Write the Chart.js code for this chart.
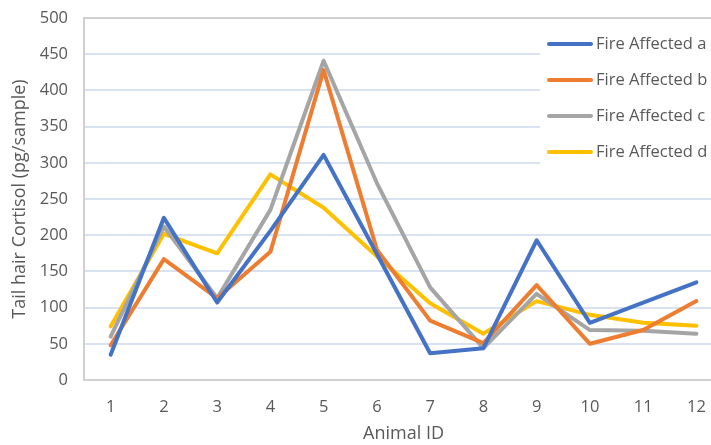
<!DOCTYPE html>
<html>
<head>
<meta charset="utf-8">
<script src="https://cdn.jsdelivr.net/npm/chart.js@4/dist/chart.umd.min.js"></script>
<style>
  html, body { margin: 0; padding: 0; background: #fff; overflow: hidden; }
  #wrap { position: relative; width: 740px; height: 445px; }
</style>
</head>
<body>
<div id="wrap"><canvas id="c"></canvas></div>
<script>
// Animal IDs along the x axis
const animalIds = ['1', '2', '3', '4', '5', '6', '7', '8', '9', '10', '11', '12'];

// Tail hair cortisol (pg/sample) per group
const fireAffectedA = [35, 224, 107, 206, 311, 174, 37, 44, 193, 79, 107, 135];
const fireAffectedB = [48, 167, 113, 177, 428, 180, 82, 51, 131, 50, 69, 109];
const fireAffectedC = [60, 212, 113, 235, 441, 272, 128, 44, 119, 69, 68, 64];
const fireAffectedD = [74, 202, 175, 284, 238, 171, 106, 64, 109, 90, 79, 75];

const seriesNames = ['Fire Affected a', 'Fire Affected b', 'Fire Affected c', 'Fire Affected d'];
const seriesColors = ['#4472C4', '#ED7D31', '#A5A5A5', '#FFC000'];
const seriesValues = [fireAffectedA, fireAffectedB, fireAffectedC, fireAffectedD];

const FONT = "'Open Sans', 'Noto Sans', sans-serif";
const TEXT = '#595959';

// Legend panel drawn inside the plot area, on top of the gridlines
const insideLegend = {
  id: 'insideLegend',
  beforeDatasetsDraw(chart) {
    const ctx = chart.ctx;
    ctx.save();
    ctx.fillStyle = '#ffffff';
    ctx.fillRect(540, 21, 200, 158);
    ctx.font = '16.5px ' + FONT;
    ctx.textBaseline = 'middle';
    ctx.textAlign = 'left';
    chart.data.datasets.forEach((ds, i) => {
      const y = 44 + i * 36;
      ctx.strokeStyle = ds.borderColor;
      ctx.lineWidth = 4;
      ctx.lineCap = 'round';
      ctx.beginPath();
      ctx.moveTo(549, y);
      ctx.lineTo(591, y);
      ctx.stroke();
      ctx.fillStyle = TEXT;
      ctx.fillText(ds.label, 596, y);
    });
    ctx.restore();
  }
};

new Chart(document.getElementById('c'), {
  type: 'line',
  data: {
    labels: animalIds,
    datasets: seriesNames.map((name, i) => ({
      label: name,
      data: seriesValues[i],
      borderColor: seriesColors[i],
      backgroundColor: seriesColors[i],
      borderWidth: 4,
      borderJoinStyle: 'round',
      borderCapStyle: 'round',
      pointRadius: 0,
      tension: 0,
      fill: false
    }))
  },
  options: {
    responsive: true,
    maintainAspectRatio: false,
    animation: false,
    layout: { padding: { top: 18, right: 17, left: 0, bottom: 0 } },
    plugins: {
      legend: { display: false },
      tooltip: { enabled: false }
    },
    scales: {
      x: {
        offset: true,
        grid: { display: false, drawTicks: false },
        border: { display: true, color: '#D0D0D0', width: 2 },
        ticks: { color: TEXT, font: { family: FONT, size: 16.5 }, padding: 17 },
        title: {
          display: true, text: 'Animal ID', color: TEXT,
          font: { family: FONT, size: 18 }, padding: { top: 0, bottom: 0 }
        },
        afterFit(scale) { scale.height = 65; scale.paddingLeft = 0; scale.paddingRight = 0; }
      },
      y: {
        min: 0, max: 500,
        grid: {
          drawTicks: false,
          lineWidth: 2,
          color: (c) => c.tick && c.tick.value === 500 ? '#D0D0D0' : '#D9E2F3'
        },
        border: { display: true, color: '#D0D0D0', width: 2 },
        ticks: { stepSize: 50, color: TEXT, font: { family: FONT, size: 16.5 }, padding: 16 },
        title: {
          display: true, text: 'Tail hair Cortisol (pg/sample)', color: TEXT,
          font: { family: FONT, size: 18 }, padding: { top: 9, bottom: 0 }
        },
        afterFit(scale) { scale.width = 84; scale.paddingTop = 0; scale.paddingBottom = 0; }
      }
    }
  },
  plugins: [insideLegend]
});
</script>
</body>
</html>
